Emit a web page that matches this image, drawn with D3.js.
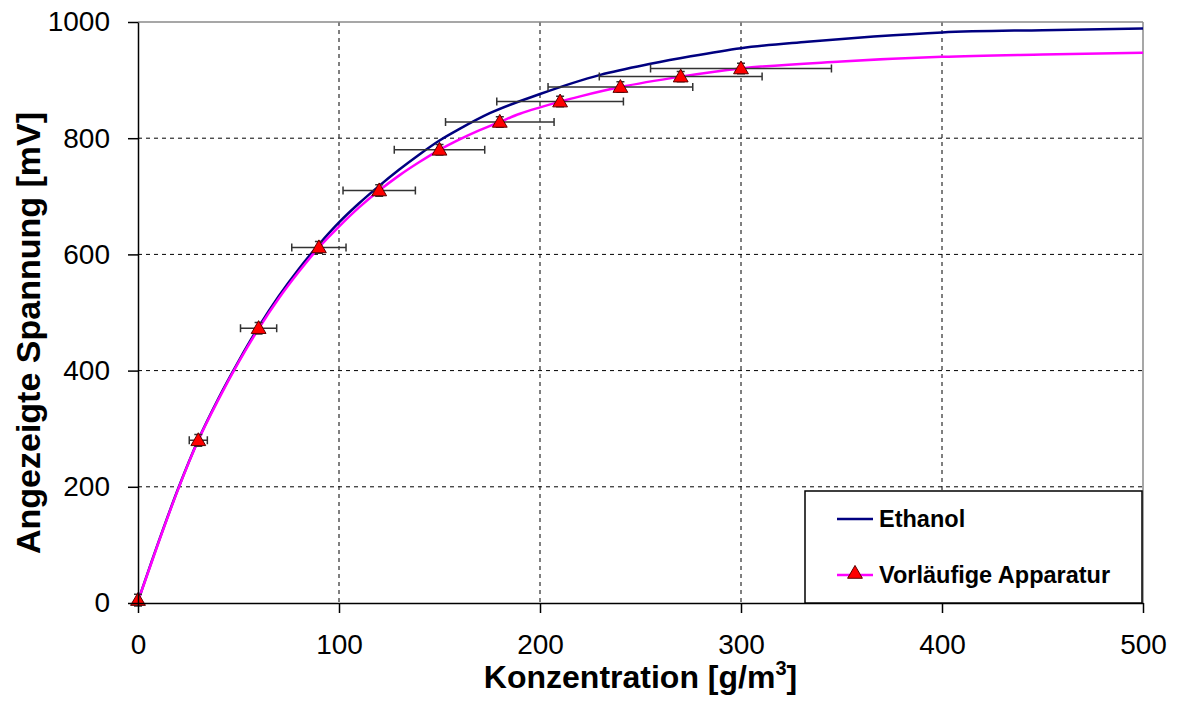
<html>
<head>
	<meta charset='utf-8' />
	<title>Konzentration vs. Spannung</title>
	<script src="https://cdn.jsdelivr.net/npm/d3@7"></script>
	<style>
	body { margin: 0; background: #fff; }
	text { font-family: "Liberation Sans", Arial, sans-serif; }
	</style>
</head>
<body>
<script>

	// tick values
	var xTicks = [0, 100, 200, 300, 400, 500];
	var yTicks = [0, 200, 400, 600, 800, 1000];

	// Ethanol reference curve
	var ethanolX = [0, 10, 20, 30, 40, 50, 60, 70, 80, 90, 100, 110, 120, 130, 140, 150, 160, 175, 200, 230, 255, 275, 300, 333, 366, 400, 450, 500];
	var ethanolY = [3, 103, 197, 281, 352, 416, 475, 528, 575, 617, 655, 688, 718, 746, 772, 796, 816, 843, 876, 909, 928, 941, 955, 966, 975, 982, 986, 989];

	// Vorlaeufige Apparatur fit curve
	var apparatX = [0, 10, 20, 30, 40, 50, 60, 70, 80, 90, 100, 110, 120, 130, 140, 150, 160, 170, 180, 190, 200, 210, 220, 240, 270, 300, 350, 400, 450, 500];
	var apparatY = [3, 102, 196, 280, 350, 414, 472, 524, 570, 612, 648, 681, 710, 736, 759, 780, 798, 814, 828, 842, 853, 863, 872, 888, 906, 920, 932, 940, 944, 947];

	// measured points with error bars
	var measX = [0, 30, 60, 90, 120, 150, 180, 210, 240, 270, 300];
	var measY = [5, 280, 473, 612, 710, 780, 828, 863, 888, 906, 920];
	var xErr  = [0, 4.5, 9, 13.5, 18, 22.5, 27, 31.5, 36, 40.5, 45];
	var yErr  = [10, 10, 10, 10, 10, 9, 9, 9, 9, 9, 9];

	var margin = {top: 22, right: 36, bottom: 99, left: 138};
	var W = 1179, H = 702;
	var width = W - margin.left - margin.right,
	    height = H - margin.top - margin.bottom;

	var base = d3.select("body").append("svg")
		.attr("width", W).attr("height", H)
		.style("background", "#fff");

	var svg = base.append("g").attr("transform", "translate(" + margin.left + "," + margin.top + ")");

	var xScale = d3.scaleLinear().domain([0, 500]).range([0, width]);
	var yScale = d3.scaleLinear().domain([0, 1000]).range([height, 0]);

	// grid
	svg.append("g").selectAll("line")
		.data(yTicks.filter(d => d > 0 && d < 1000))
		.enter().append("line")
		.attr("x1", 0).attr("x2", width)
		.attr("y1", d => yScale(d)).attr("y2", d => yScale(d))
		.attr("stroke", "#000").attr("stroke-width", 1).attr("stroke-dasharray", "4,4");

	svg.append("g").selectAll("line")
		.data(xTicks.filter(d => d > 0 && d < 500))
		.enter().append("line")
		.attr("x1", d => xScale(d)).attr("x2", d => xScale(d))
		.attr("y1", 0).attr("y2", height)
		.attr("stroke", "#000").attr("stroke-width", 1).attr("stroke-dasharray", "4,4");

	// top and right frame
	svg.append("line").attr("x1", 0).attr("x2", width).attr("y1", 0).attr("y2", 0)
		.attr("stroke", "#8a8a8a").attr("stroke-width", 1.5);
	svg.append("line").attr("x1", width).attr("x2", width).attr("y1", 0).attr("y2", height)
		.attr("stroke", "#8a8a8a").attr("stroke-width", 1.5);

	// curves
	var line = d3.line()
		.x(d => xScale(d[0]))
		.y(d => yScale(d[1]))
		.curve(d3.curveMonotoneX);

	svg.append("path")
		.datum(d3.zip(ethanolX, ethanolY))
		.attr("fill", "none").attr("stroke", "#000080").attr("stroke-width", 2.5)
		.attr("d", line);

	svg.append("path")
		.datum(d3.zip(apparatX, apparatY))
		.attr("fill", "none").attr("stroke", "#ff00ff").attr("stroke-width", 2.5)
		.attr("d", line);

	// error bars
	var meas = measX.map((x, i) => ({x: x, y: measY[i], ex: xErr[i], ey: yErr[i]}));
	var eb = svg.append("g").attr("stroke", "#333").attr("stroke-width", 1.5).attr("fill", "none");
	var cap = 4;

	meas.forEach(function(d) {
		var cx = xScale(d.x), cy = yScale(d.y);
		var x0 = xScale(d.x - d.ex), x1 = xScale(d.x + d.ex);
		var y0 = yScale(d.y - d.ey), y1 = yScale(d.y + d.ey);
		eb.append("path").attr("d",
			"M" + x0 + "," + cy + "H" + x1 +
			"M" + x0 + "," + (cy - cap) + "V" + (cy + cap) +
			"M" + x1 + "," + (cy - cap) + "V" + (cy + cap) +
			"M" + cx + "," + y0 + "V" + y1 +
			"M" + (cx - cap) + "," + y1 + "H" + (cx + cap) +
			"M" + (cx - cap) + "," + y0 + "H" + (cx + cap));
	});

	var tri = d3.symbol().type(d3.symbolTriangle).size(95);

	svg.append("g").selectAll("path")
		.data(meas)
		.enter().append("path")
		.attr("d", tri)
		.attr("transform", d => "translate(" + xScale(d.x) + "," + (yScale(d.y) + 1) + ")")
		.attr("fill", "#ff0000").attr("stroke", "#5a0000").attr("stroke-width", 1);

	// axes
	var yAxis = svg.append("g")
		.call(d3.axisLeft(yScale).tickValues(yTicks).tickFormat(d3.format("d"))
			.tickSize(10).tickSizeOuter(0).tickPadding(18));
	var xAxis = svg.append("g")
		.attr("transform", "translate(0," + height + ")")
		.call(d3.axisBottom(xScale).tickValues(xTicks).tickFormat(d3.format("d"))
			.tickSize(10).tickSizeOuter(0).tickPadding(27));

	[yAxis, xAxis].forEach(function(a) {
		a.select(".domain").attr("stroke", "#000").attr("stroke-width", 1.5);
		a.selectAll(".tick line").attr("stroke", "#000").attr("stroke-width", 1.5);
		a.selectAll("text").attr("font-size", "28px").attr("fill", "#000")
			.attr("font-family", "'Liberation Sans', Arial, sans-serif");
	});
	xAxis.selectAll("text").attr("dy", "0.5em");

	// axis titles
	var xt = base.append("text")
		.attr("x", margin.left + width / 2)
		.attr("y", 688)
		.attr("text-anchor", "middle")
		.attr("font-size", "32px").attr("font-weight", "bold")
		.text("Konzentration [g/m");
	xt.append("tspan").attr("font-size", "20px").attr("dy", -13).text("3");
	xt.append("tspan").attr("dy", 13).text("]");

	base.append("text")
		.attr("transform", "translate(40,333) rotate(-90)")
		.attr("text-anchor", "middle")
		.attr("font-size", "34px").attr("font-weight", "bold")
		.text("Angezeigte Spannung [mV]");

	// legend
	var lg = base.append("g").attr("transform", "translate(805,491)");
	lg.append("rect").attr("width", 337).attr("height", 112)
		.attr("fill", "#fff").attr("stroke", "#000").attr("stroke-width", 1.5);

	var legendItems = ["Ethanol", "Vorläufige Apparatur"];
	var legendColors = ["#000080", "#ff00ff"];

	legendItems.forEach(function(name, i) {
		var ly = 28 + i * 56;
		lg.append("line").attr("x1", 32).attr("x2", 68).attr("y1", ly).attr("y2", ly)
			.attr("stroke", legendColors[i]).attr("stroke-width", 2.5);
		if (i == 1) {
			lg.append("path").attr("d", tri)
				.attr("transform", "translate(50," + (ly - 1) + ")")
				.attr("fill", "#ff0000").attr("stroke", "#5a0000").attr("stroke-width", 1);
		}
		lg.append("text").attr("x", 74).attr("y", ly + 8)
			.attr("font-size", "23.5px").attr("font-weight", "bold")
			.text(name);
	});

</script>
</body>
</html>
